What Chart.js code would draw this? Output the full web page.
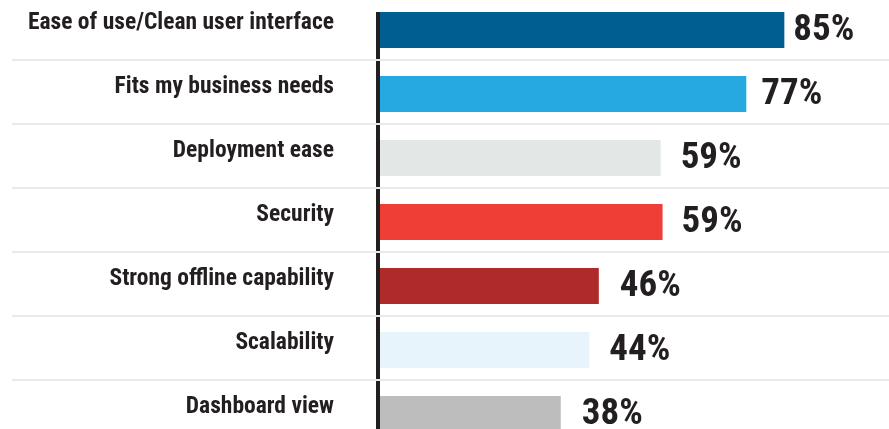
<!DOCTYPE html>
<html>
<head>
<meta charset="utf-8">
<script src="https://cdn.jsdelivr.net/npm/chart.js@4/dist/chart.umd.min.js"></script>
<style>
  html, body { margin: 0; padding: 0; background: #ffffff; overflow: hidden; width: 889px; height: 429px; }
  #wrap { position: absolute; left: 0; top: -2px; width: 889px; height: 448px; }
</style>
</head>
<body>
<div id="wrap"><canvas id="c"></canvas></div>
<script>
const categories = [
  "Ease of use/Clean user interface",
  "Fits my business needs",
  "Deployment ease",
  "Security",
  "Strong offline capability",
  "Scalability",
  "Dashboard view"
];
const values = [85, 77, 59, 59.4, 46, 44, 38];
const valueLabels = ["85%", "77%", "59%", "59%", "46%", "44%", "38%"];
const barColors = ["#005E91", "#25A9E0", "#E3E7E6", "#EF3E36", "#AF2B2A", "#E8F4FB", "#BCBDBC"];

const FONT = '"Roboto Condensed", "Open Sans Condensed", "DejaVu Sans Condensed", sans-serif';
const INK = "#231F20";

const framePlugin = {
  id: "frame",
  beforeDatasetsDraw(chart) {
    const ctx = chart.ctx;
    const y = chart.scales.y;
    const area = chart.chartArea;
    const meta = chart.getDatasetMeta(0);
    const first = meta.data[0];
    const half = (y.getPixelForValue(1) - y.getPixelForValue(0)) / 2;
    ctx.save();
    ctx.fillStyle = INK;
    const top = first.y - first.height / 2;
    ctx.fillRect(area.left - 4, top, 4, chart.height - top);
    ctx.strokeStyle = "#E8EAEA";
    ctx.lineWidth = 2;
    for (let i = 0; i < categories.length - 1; i++) {
      const py = Math.round(y.getPixelForValue(i) + half) - 2;
      ctx.beginPath();
      ctx.moveTo(12, py);
      ctx.lineTo(chart.width, py);
      ctx.stroke();
    }
    ctx.restore();
  },
  afterDatasetsDraw(chart, args, opts) {
    const ctx = chart.ctx;
    const meta = chart.getDatasetMeta(0);
    ctx.save();
    ctx.fillStyle = INK;
    ctx.font = "bold 37px " + FONT;
    ctx.textAlign = "left";
    ctx.textBaseline = "middle";
    meta.data.forEach((bar, i) => {
      ctx.fillText(valueLabels[i], bar.x + opts.gaps[i], bar.y + 1);
    });
    ctx.restore();
  }
};

new Chart(document.getElementById("c"), {
  type: "bar",
  data: {
    labels: categories,
    datasets: [{
      data: values,
      backgroundColor: barColors,
      borderWidth: 0,
      categoryPercentage: 1,
      barPercentage: 0.5625
    }]
  },
  options: {
    indexAxis: "y",
    responsive: true,
    maintainAspectRatio: false,
    animation: false,
    layout: { padding: 0 },
    plugins: {
      legend: { display: false },
      tooltip: { enabled: false },
      frame: { gaps: [9, 15, 20, 19, 21, 20, 21] }
    },
    scales: {
      x: { display: false, min: 0, max: 107 },
      y: {
        afterFit(scale) {
          scale.width = 380;
          scale.paddingTop = 0;
          scale.paddingBottom = 0;
        },
        grid: { display: false, drawTicks: true, tickLength: 44 },
        border: { display: false },
        ticks: {
          color: INK,
          font: { family: FONT, weight: "bold", size: 23.5 },
          padding: 2,
          labelOffset: -7,
          autoSkip: false
        }
      }
    }
  },
  plugins: [framePlugin]
});
</script>
</body>
</html>
